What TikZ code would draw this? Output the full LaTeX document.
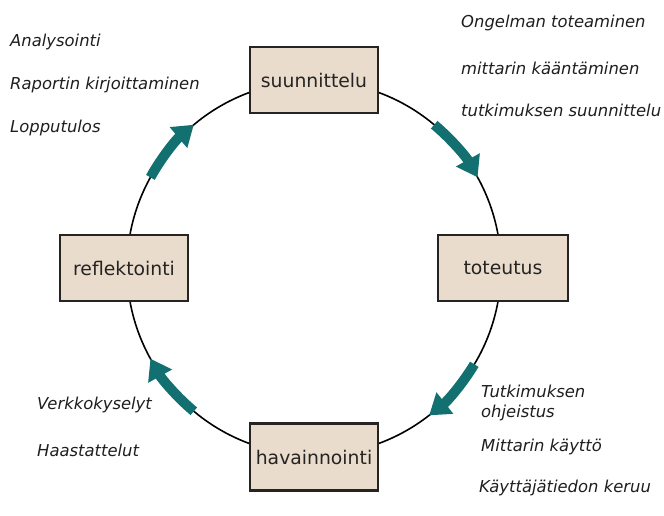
\documentclass[tikz,border=0pt]{standalone}
\usepackage{fontspec}
\setmainfont{DejaVu Sans}
\usepackage{tikz}
\usetikzlibrary{arrows.meta, positioning, calc}
\definecolor{cycleteal}{RGB}{18,112,112}
\definecolor{stagefill}{RGB}{234,220,204}
\definecolor{stagedraw}{RGB}{38,36,34}
\definecolor{notegray}{RGB}{30,30,30}
\tikzset{
  stage/.style={rectangle, draw=stagedraw, fill=stagefill, line width=2.4pt,
    minimum width=128pt, minimum height=66pt, inner sep=0pt,
    font=\fontsize{18.8}{22}\selectfont, text=stagedraw},
  note/.style={anchor=west, inner sep=0pt, font=\fontsize{16.4}{20}\selectfont\itshape,
    text=notegray, align=left},
  ring/.style={draw=black, line width=1.6pt},
  flow/.style={cycleteal, line width=10pt,
    -{Triangle[width=26pt, length=20pt]}}
}
\begin{document}
\begin{tikzpicture}[x=1pt, y=1pt]
  \useasboundingbox (0,0) rectangle (664,515);
  \coordinate (c) at (314,247);
  \draw[ring] (c) circle (187);
  % stages of the cycle
  \node[stage] (plan) at (314,435) {suunnittelu};
  \node[stage, minimum width=130pt] (act) at (503,247) {toteutus};
  \node[stage, minimum height=67pt] (obs) at (314,58) {havainnointi};
  \node[stage] (refl) at (124,247) {reflektointi};
  % thick arrows along the ring
  \draw[flow] ($(c)+(50:187)$) arc (50:29:187);
  \draw[flow] ($(c)+(-31:187)$) arc (-31:-52:187);
  \draw[flow] ($(c)+(230:187)$) arc (230:209:187);
  \draw[flow] ($(c)+(151:187)$) arc (151:130:187);
  % notes
  \node[note] (n1) at (10,473) {Analysointi};
  \node[note] (n2) at (10,430) {Raportin kirjoittaminen};
  \node[note] (n3) at (10,387) {Lopputulos};
  \node[note] (n4) at (461,492) {Ongelman toteaminen};
  \node[note] (n5) at (461,447) {mittarin kääntäminen};
  \node[note] (n6) at (461,405) {tutkimuksen suunnittelu};
  \node[note] (n7) at (481,112) {Tutkimuksen\\ohjeistus};
  \node[note] (n8) at (481,68) {Mittarin käyttö};
  \node[note] (n9) at (479,27) {Käyttäjätiedon keruu};
  \node[note] (n10) at (37,110) {Verkkokyselyt};
  \node[note] (n11) at (37,65) {Haastattelut};
\end{tikzpicture}
\end{document}
